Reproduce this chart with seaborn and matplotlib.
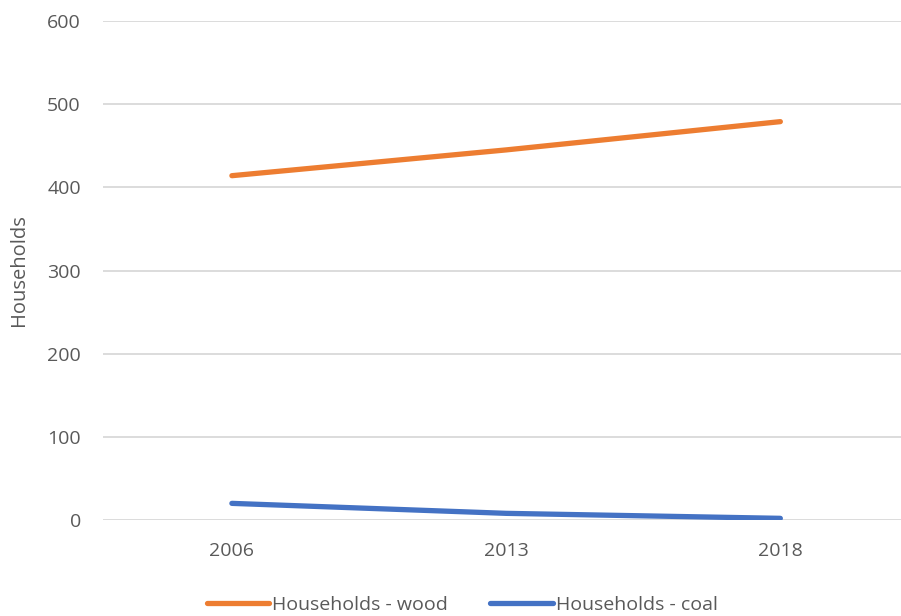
import matplotlib
matplotlib.use('Agg')
import matplotlib.pyplot as plt
import seaborn as sns
import pandas as pd

years = ['2006', '2013', '2018']
wood = [414, 445, 479]
coal = [20, 8, 2]

df = pd.DataFrame({
    'year': years * 2,
    'value': wood + coal,
    'series': ['Households - wood'] * 3 + ['Households - coal'] * 3,
})

sns.set_theme(style='white')
plt.rcParams['font.family'] = ['Open Sans', 'DejaVu Sans']
txt = '#595959'

fig = plt.figure(figsize=(9.01, 6.16), dpi=100)
ax = fig.add_axes([103 / 901, 1 - 520 / 616, (901 - 103) / 901, (520 - 21) / 616])

sns.lineplot(data=df, x='year', y='value', hue='series', ax=ax,
             palette={'Households - wood': '#ED7D31', 'Households - coal': '#4472C4'},
             linewidth=3.8, solid_capstyle='round', sort=False)

ax.set_ylim(0, 600)
ax.set_xlim(-0.47, 2.44)
ax.set_yticks(range(0, 601, 100))
ax.grid(axis='y', color='#d9d9d9', linewidth=1.3)
ax.set_axisbelow(True)
for s in ax.spines.values():
    s.set_visible(False)
ax.tick_params(axis='x', length=0, labelsize=14, labelcolor=txt, pad=16)
ax.tick_params(axis='y', length=0, labelsize=14, labelcolor=txt, pad=16)
ax.set_xlabel('')
ax.set_ylabel('Households', fontsize=14.5, color=txt, labelpad=13)

handles, labels = ax.get_legend_handles_labels()
ax.legend(handles, labels, loc='center', bbox_to_anchor=(0.45, -0.17), ncol=2,
          frameon=False, fontsize=14, labelcolor=txt, handlelength=3.2,
          handletextpad=0.15, columnspacing=2.2)

fig.savefig('out.png', dpi=100)
